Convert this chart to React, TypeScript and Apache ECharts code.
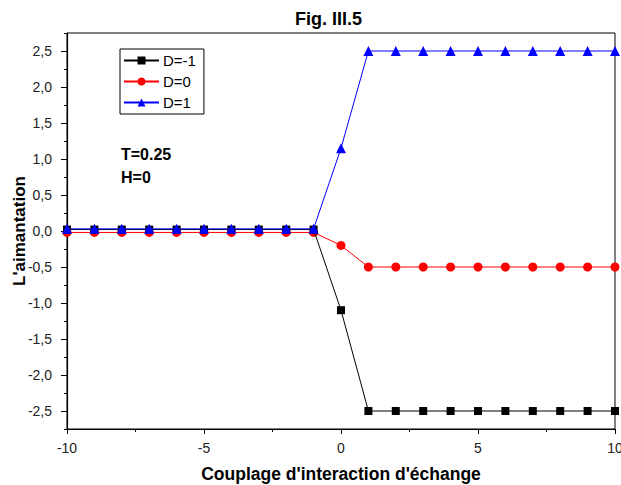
import React, { useEffect, useRef } from "react";
import * as echarts from "echarts";

const xValues = [-10, -9, -8, -7, -6, -5, -4, -3, -2, -1, 0, 1, 2, 3, 4, 5, 6, 7, 8, 9, 10];
const dMinus1 = [0.02, 0.02, 0.02, 0.02, 0.02, 0.02, 0.02, 0.02, 0.02, 0.02, -1.1, -2.5, -2.5, -2.5, -2.5, -2.5, -2.5, -2.5, -2.5, -2.5, -2.5];
const dZero = [-0.02, -0.02, -0.02, -0.02, -0.02, -0.02, -0.02, -0.02, -0.02, -0.02, -0.2, -0.5, -0.5, -0.5, -0.5, -0.5, -0.5, -0.5, -0.5, -0.5, -0.5];
const dPlus1 = [0.03, 0.03, 0.03, 0.03, 0.03, 0.03, 0.03, 0.03, 0.03, 0.03, 1.15, 2.5, 2.5, 2.5, 2.5, 2.5, 2.5, 2.5, 2.5, 2.5, 2.5];
const yMajorTicks = [-2.5, -2.0, -1.5, -1.0, -0.5, 0.0, 0.5, 1.0, 1.5, 2.0, 2.5];
const yMinorTicks = [-2.75, -2.25, -1.75, -1.25, -0.75, -0.25, 0.25, 0.75, 1.25, 1.75, 2.25, 2.75];
const seriesNames = ["D=-1", "D=0", "D=1"];

const FONT = "'Liberation Sans', Arial, sans-serif";

export default function App() {
  const ref = useRef<HTMLDivElement>(null);
  useEffect(() => {
    if (!ref.current) return;
    const chart = echarts.init(ref.current, null, { renderer: "svg" });
    const pairs = (ys: number[]) => xValues.map((x, i) => [x, ys[i]]);
    const yFmt = (v: number) => v.toFixed(1).replace(".", ",");
    chart.setOption({
      animation: false,
      backgroundColor: "#ffffff",
      textStyle: { fontFamily: FONT },
      title: {
        text: "Fig. III.5",
        left: 295,
        top: 10,
        padding: 0,
        textStyle: { fontSize: 18, fontWeight: "bold", color: "#000", fontFamily: FONT },
      },
      grid: {
        left: 67,
        right: 6,
        top: 33,
        bottom: 56,
        show: true,
        borderColor: "#000",
        borderWidth: 1,
        containLabel: false,
        outerBoundsMode: "none",
      },
      legend: {
        orient: "vertical",
        left: 120,
        top: 49,
        data: seriesNames,
        itemWidth: 35,
        itemHeight: 10,
        itemGap: 6,
        padding: [4, 8, 4, 3],
        borderColor: "#000",
        borderWidth: 1,
        textStyle: { fontSize: 15, color: "#000", fontFamily: FONT, padding: [0, 0, 0, -1] },
      },
      xAxis: {
        type: "value",
        min: -10,
        max: 10,
        interval: 5,
        name: "Couplage d'interaction d'échange",
        nameLocation: "middle",
        nameGap: 36,
        nameMoveOverlap: false,
        nameTextStyle: { fontSize: 17.5, fontWeight: "bold", color: "#000", fontFamily: FONT },
        axisLine: { show: true, onZero: false, lineStyle: { color: "#000", width: 1.2 } },
        axisTick: { show: true, length: 5, lineStyle: { color: "#000" } },
        minorTick: { show: true, splitNumber: 2, length: 3, lineStyle: { color: "#000" } },
        axisLabel: { fontSize: 14, color: "#222", margin: 12, fontFamily: FONT },
        splitLine: { show: false },
      },
      yAxis: [
        {
          type: "value",
          min: -2.75,
          max: 2.75,
          name: "L'aimantation",
          nameLocation: "middle",
          nameGap: 39,
          nameMoveOverlap: false,
          nameTextStyle: { fontSize: 17, fontWeight: "bold", color: "#000", fontFamily: FONT },
          axisLine: { show: true, onZero: false, lineStyle: { color: "#000", width: 1.2 } },
          axisTick: { show: true, length: 6, customValues: yMajorTicks, lineStyle: { color: "#000" } },
          axisLabel: {
            fontSize: 14,
            color: "#222",
            margin: 15,
            customValues: yMajorTicks,
            formatter: yFmt,
            fontFamily: FONT,
          },
          splitLine: { show: false },
        },
        {
          type: "value",
          min: -2.75,
          max: 2.75,
          position: "left",
          axisLine: { show: false, onZero: false },
          axisTick: { show: true, length: 3, customValues: yMinorTicks, lineStyle: { color: "#000" } },
          axisLabel: { show: false },
          splitLine: { show: false },
        },
      ],
      graphic: [
        {
          type: "text",
          x: 121,
          y: 154.5,
          style: { text: "T=0.25", font: `bold 16px ${FONT}`, fill: "#000", textVerticalAlign: "middle" },
        },
        {
          type: "text",
          x: 121,
          y: 177.5,
          style: { text: "H=0", font: `bold 16px ${FONT}`, fill: "#000", textVerticalAlign: "middle" },
        },
      ],
      series: [
        {
          name: seriesNames[0],
          type: "line",
          data: pairs(dMinus1),
          symbol: "rect",
          symbolSize: 8,
          itemStyle: { color: "#000000" },
          lineStyle: { color: "#000000", width: 1 },
          z: 3,
        },
        {
          name: seriesNames[1],
          type: "line",
          data: pairs(dZero),
          symbol: "circle",
          symbolSize: 9,
          itemStyle: { color: "#ff0000" },
          lineStyle: { color: "#ff0000", width: 1 },
          z: 2,
        },
        {
          name: seriesNames[2],
          type: "line",
          data: pairs(dPlus1),
          symbol: "triangle",
          symbolSize: 10,
          itemStyle: { color: "#0000ff" },
          lineStyle: { color: "#0000ff", width: 1 },
          z: 4,
        },
      ],
    });
    return () => chart.dispose();
  }, []);
  return <div ref={ref} style={{ width: 621, height: 485, position: "absolute", left: 0, top: 0 }} />;
}
